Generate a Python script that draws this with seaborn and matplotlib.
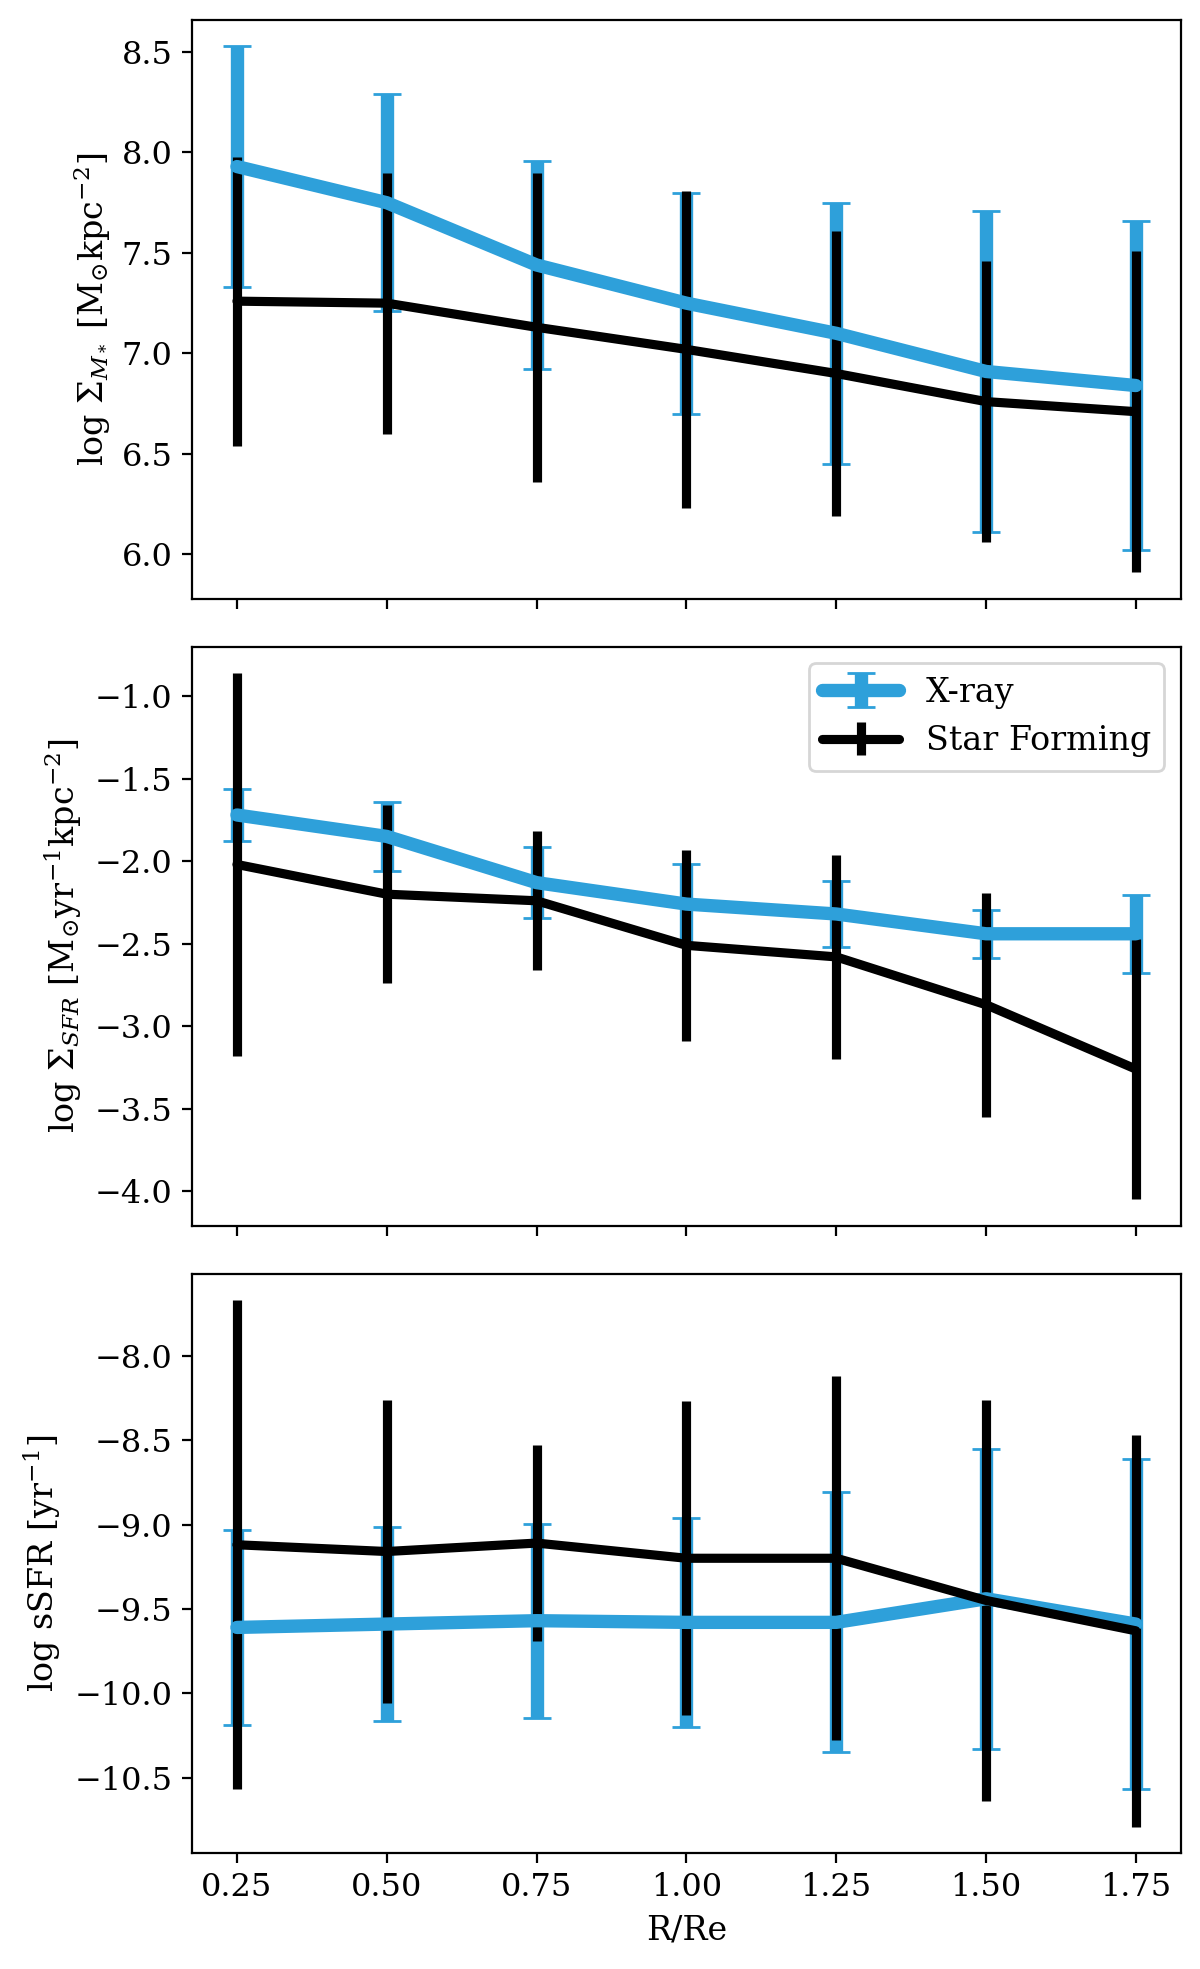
import numpy as np
import matplotlib
matplotlib.use('Agg')
import matplotlib.pyplot as plt
import seaborn as sns

# Radial bins (R/Re)
radius = [0.25, 0.50, 0.75, 1.00, 1.25, 1.50, 1.75]

# log Sigma_M*  (X-ray vs star forming)
mstar_xray = [7.93, 7.75, 7.44, 7.25, 7.10, 6.91, 6.84]
mstar_xray_err = [0.60, 0.54, 0.52, 0.55, 0.65, 0.80, 0.82]
mstar_sf = [7.26, 7.25, 7.13, 7.02, 6.90, 6.76, 6.71]
mstar_sf_err = [0.72, 0.65, 0.77, 0.79, 0.71, 0.70, 0.80]

# log Sigma_SFR
sfr_xray = [-1.72, -1.85, -2.13, -2.26, -2.32, -2.44, -2.44]
sfr_xray_err = [0.16, 0.21, 0.215, 0.24, 0.20, 0.145, 0.235]
sfr_sf = [-2.02, -2.20, -2.24, -2.51, -2.58, -2.87, -3.26]
sfr_sf_err = [1.16, 0.54, 0.42, 0.58, 0.62, 0.68, 0.79]

# log sSFR
ssfr_xray = [-9.61, -9.59, -9.57, -9.58, -9.58, -9.44, -9.59]
ssfr_xray_err = [0.58, 0.575, 0.575, 0.62, 0.77, 0.89, 0.98]
ssfr_sf = [-9.12, -9.16, -9.11, -9.20, -9.20, -9.45, -9.63]
ssfr_sf_err = [1.45, 0.90, 0.58, 0.93, 1.08, 1.19, 1.16]

ylabels = [r'log $\Sigma_{M_*}$ [M$_{\odot}$kpc$^{-2}$]',
           r'log $\Sigma_{SFR}$ [M$_{\odot}$yr$^{-1}$kpc$^{-2}$]',
           r'log sSFR [yr$^{-1}$]']

sns.set_theme(style='ticks')
plt.rcParams['font.family'] = ['DejaVu Serif']
plt.rcParams['mathtext.fontset'] = 'dejavuserif'
plt.rcParams.update({'axes.edgecolor': 'black', 'xtick.color': 'black', 'ytick.color': 'black',
                     'text.color': 'black', 'axes.labelcolor': 'black',
                     'xtick.labelsize': 11.5, 'ytick.labelsize': 11.5, 'axes.labelsize': 12,
                     'axes.linewidth': 0.8, 'xtick.major.width': 0.8, 'ytick.major.width': 0.8,
                     'xtick.major.size': 3.5, 'ytick.major.size': 3.5})

blue = '#2ea0da'

fig, ax = plt.subplots(3, 1, figsize=(6, 9.845), sharex=True)
fig.subplots_adjust(left=0.160, right=0.984, top=0.990, bottom=0.059, hspace=0.083)

panels = [(mstar_xray, mstar_xray_err, mstar_sf, mstar_sf_err),
          (sfr_xray, sfr_xray_err, sfr_sf, sfr_sf_err),
          (ssfr_xray, ssfr_xray_err, ssfr_sf, ssfr_sf_err)]

for i, (yx, ex, ys, es) in enumerate(panels):
    ax[i].errorbar(radius, yx, yerr=ex, color=blue, lw=4.8, capsize=5, label='X-ray')
    ax[i].errorbar(radius, ys, yerr=es, color='black', lw=3.3, label='Star Forming')
    ax[i].set_ylabel(ylabels[i])

ax[2].set_xticks(radius)
ax[1].legend(loc='upper right', fontsize=12, handlelength=2.3)
ax[2].set_xlabel('R/Re')

fig.savefig('out.png', dpi=200)
